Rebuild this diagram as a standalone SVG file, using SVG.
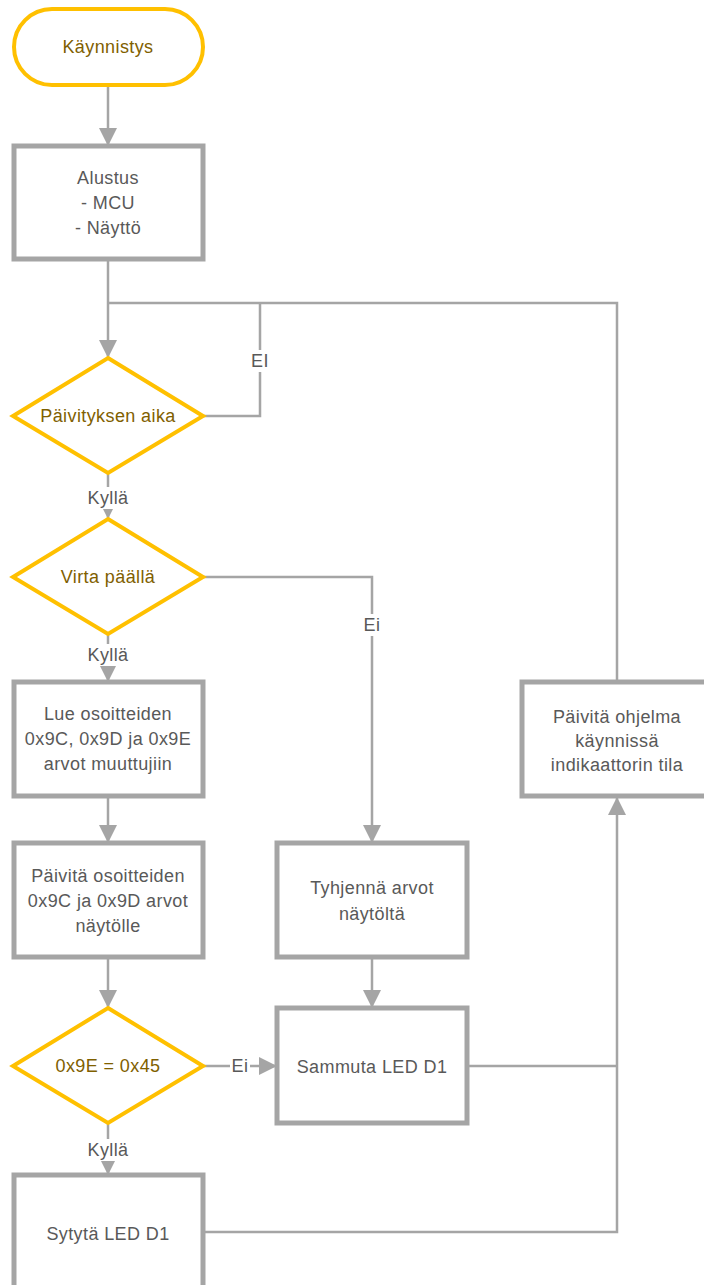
<svg xmlns="http://www.w3.org/2000/svg" width="704" height="1285" viewBox="0 0 704 1285">
<style>
.box{fill:#fff;stroke:#A5A5A5;stroke-width:5}
.dec{fill:#fff;stroke:#FFC000;stroke-width:4;stroke-linejoin:miter}
.term{fill:#fff;stroke:#FFC000;stroke-width:4}
.t{font-family:"Liberation Sans",Arial,sans-serif;font-size:18px;fill:#595959;text-anchor:middle;letter-spacing:0.4px}
.ty{font-family:"Liberation Sans",Arial,sans-serif;font-size:18px;fill:#7F6000;text-anchor:middle;letter-spacing:0.4px}
.c{fill:none;stroke:#A5A5A5;stroke-width:2.5}
.lbl{fill:#fff}
</style>
<defs>
<marker id="ah" viewBox="0 0 18 18" refX="18" refY="9" markerWidth="18" markerHeight="18" markerUnits="userSpaceOnUse" orient="auto">
<path d="M0,0 L18,9 L0,18 z" fill="#A5A5A5"/>
</marker>
</defs>
<g id="connectors">
<path class="c" d="M108,85 V146" marker-end="url(#ah)"/>
<path class="c" d="M108,259 V358" marker-end="url(#ah)"/>
<path class="c" d="M203,416 H260 V303"/>
<path class="c" d="M617,682 V303 H108"/>
<path class="c" d="M108,473 V519" marker-end="url(#ah)"/>
<path class="c" d="M203,577 H372 V843" marker-end="url(#ah)"/>
<path class="c" d="M108,634 V682" marker-end="url(#ah)"/>
<path class="c" d="M108,796 V843" marker-end="url(#ah)"/>
<path class="c" d="M108,957 V1008" marker-end="url(#ah)"/>
<path class="c" d="M203,1066 H277" marker-end="url(#ah)"/>
<path class="c" d="M372,957 V1008" marker-end="url(#ah)"/>
<path class="c" d="M108,1123 V1175" marker-end="url(#ah)"/>
<path class="c" d="M467,1066 H617"/>
<path class="c" d="M203,1232 H617 V797" marker-end="url(#ah)"/>
<rect class="lbl" x="250" y="350" width="20" height="22"/>
<text class="t" x="260" y="367">EI</text>
<rect class="lbl" x="86" y="487" width="44" height="22"/>
<text class="t" x="108" y="504">Kyllä</text>
<rect class="lbl" x="362" y="614" width="20" height="22"/>
<text class="t" x="372" y="631">Ei</text>
<rect class="lbl" x="86" y="644" width="44" height="22"/>
<text class="t" x="108" y="661">Kyllä</text>
<rect class="lbl" x="230" y="1055" width="20" height="22"/>
<text class="t" x="240" y="1072">Ei</text>
<rect class="lbl" x="86" y="1139" width="44" height="22"/>
<text class="t" x="108" y="1156">Kyllä</text>
</g>
<g id="start">
<rect class="term" x="14" y="9" width="189" height="76" rx="38" ry="38"/>
<text class="ty" x="108" y="53">Käynnistys</text>
</g>
<g id="alustus">
<rect class="box" x="14" y="146" width="189" height="113"/>
<text class="t" x="108" y="184">Alustus</text>
<text class="t" x="108" y="209">- MCU</text>
<text class="t" x="108" y="234">- Näyttö</text>
</g>
<g id="paivityksen-aika">
<polygon class="dec" points="108,358 203,416 108,473 13,416"/>
<text class="ty" x="108" y="422">Päivityksen aika</text>
</g>
<g id="virta-paalla">
<polygon class="dec" points="108,519 203,577 108,634 13,577"/>
<text class="ty" x="108" y="583">Virta päällä</text>
</g>
<g id="lue">
<rect class="box" x="14" y="682" width="189" height="114"/>
<text class="t" x="108" y="720">Lue osoitteiden</text>
<text class="t" x="108" y="745">0x9C, 0x9D ja 0x9E</text>
<text class="t" x="108" y="770">arvot muuttujiin</text>
</g>
<g id="paivita-osoitteiden">
<rect class="box" x="14" y="843" width="189" height="114"/>
<text class="t" x="108" y="882">Päivitä osoitteiden</text>
<text class="t" x="108" y="907">0x9C ja 0x9D arvot</text>
<text class="t" x="108" y="932">näytölle</text>
</g>
<g id="vertailu">
<polygon class="dec" points="108,1008 203,1066 108,1123 13,1066"/>
<text class="ty" x="108" y="1072">0x9E = 0x45</text>
</g>
<g id="sytyta">
<rect class="box" x="14" y="1175" width="189" height="115"/>
<text class="t" x="108" y="1240">Sytytä LED D1</text>
</g>
<g id="tyhjenna">
<rect class="box" x="277" y="843" width="190" height="114"/>
<text class="t" x="372" y="894">Tyhjennä arvot</text>
<text class="t" x="372" y="920">näytöltä</text>
</g>
<g id="sammuta">
<rect class="box" x="277" y="1008" width="190" height="115"/>
<text class="t" x="372" y="1073">Sammuta LED D1</text>
</g>
<g id="paivita-ohjelma">
<rect class="box" x="522" y="682" width="190" height="114"/>
<text class="t" x="617" y="723">Päivitä ohjelma</text>
<text class="t" x="617" y="747">käynnissä</text>
<text class="t" x="617" y="771">indikaattorin tila</text>
</g>
</svg>
